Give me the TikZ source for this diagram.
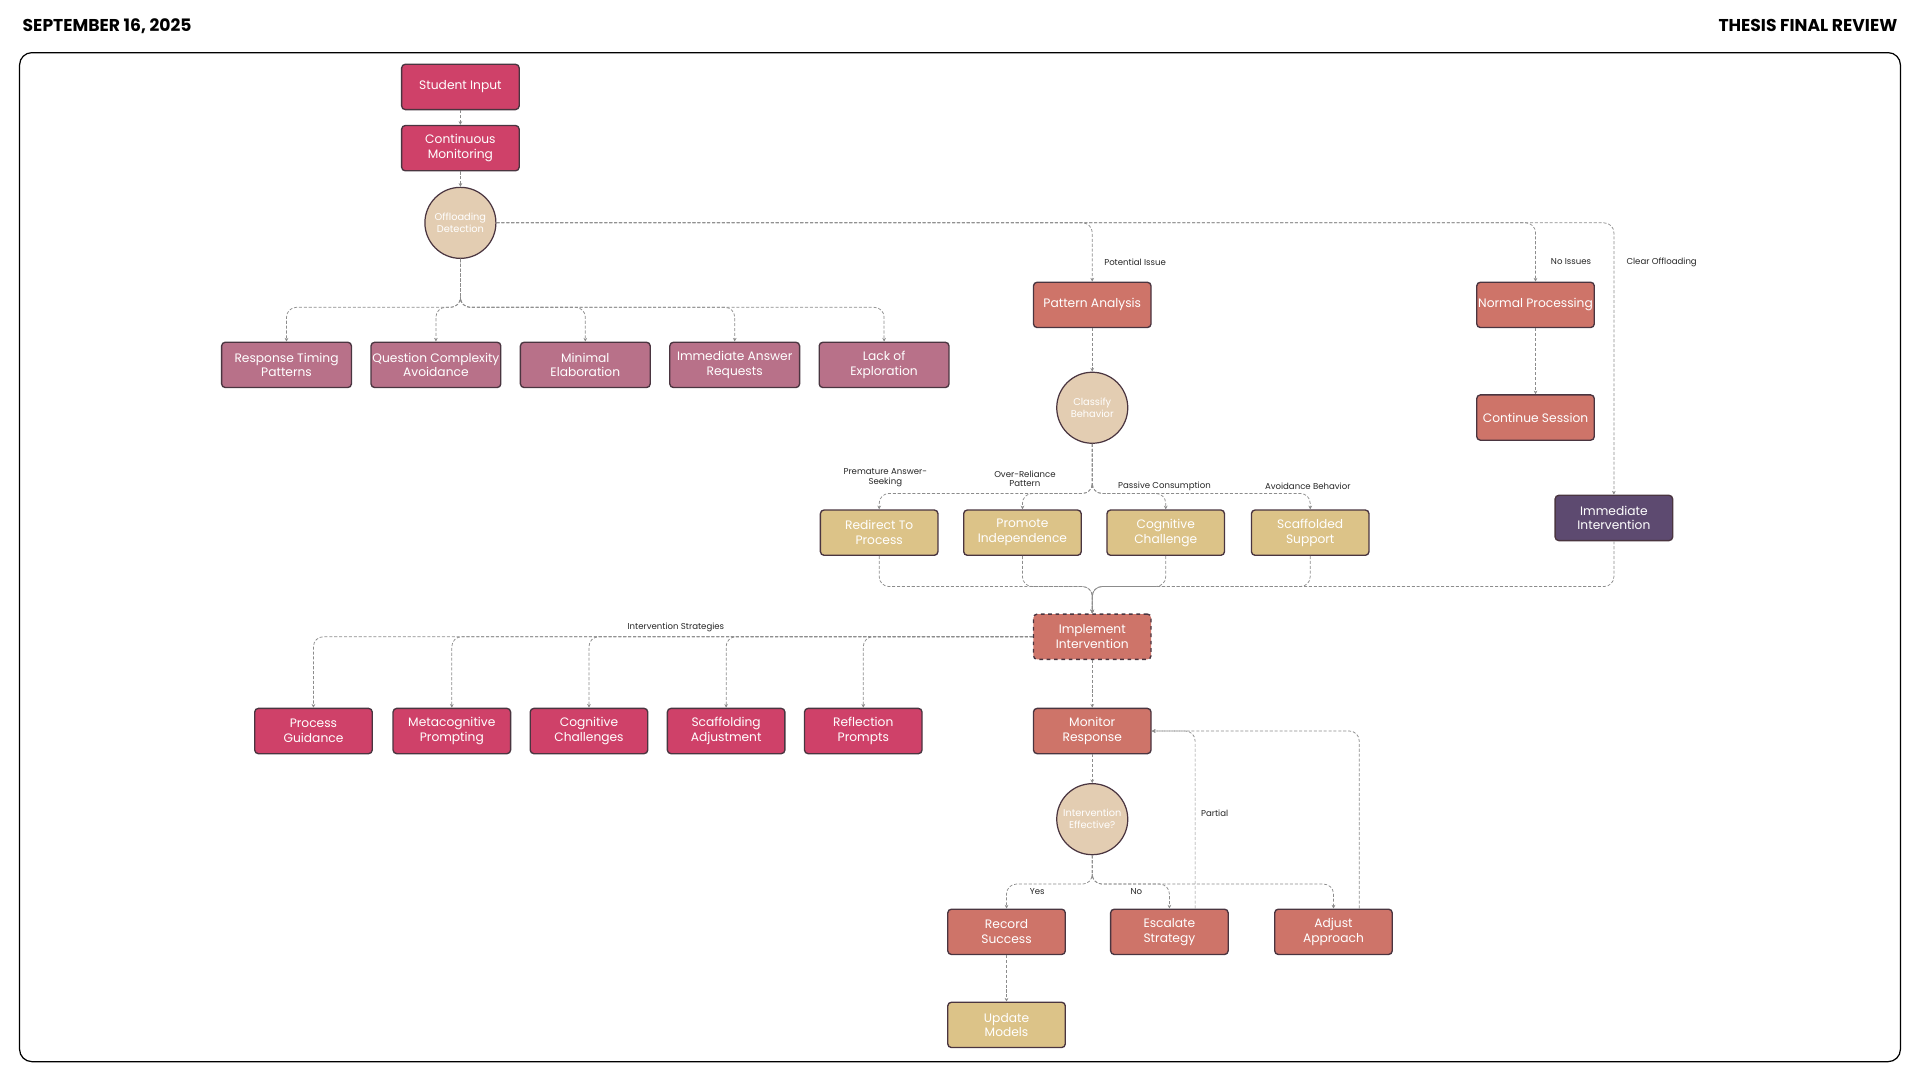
\documentclass[tikz,border=0pt]{standalone}
\usepackage{fontspec}
\setmainfont{Poppins}
\usetikzlibrary{arrows.meta}
\definecolor{crim}{HTML}{CF4169}
\definecolor{mauve}{HTML}{B87189}
\definecolor{salm}{HTML}{CE7469}
\definecolor{gold}{HTML}{DCC388}
\definecolor{purp}{HTML}{5D4A70}
\definecolor{bord}{HTML}{4A3540}
\definecolor{circ}{HTML}{E3CDB2}
\definecolor{ln}{HTML}{8C8C8C}
\begin{document}
\begin{tikzpicture}[x=1pt,y=-1pt,
 box/.style={draw=bord,line width=1.1pt,rounded corners=3pt,minimum width=96pt,minimum height=37pt,text=white,align=center,inner sep=1pt,font=\fontsize{10}{12}\selectfont},
 wbox/.style={box,minimum width=106pt},
 crc/.style={circle,draw=bord,line width=1pt,fill=circ,minimum size=58pt,text=white,align=center,inner sep=0pt,font=\fontsize{8}{10}\selectfont},
 e/.style={draw=ln,line width=0.6pt,dash pattern=on 2.5pt off 1.5pt,rounded corners=8pt,-{Stealth[length=3pt,width=3pt]}},
 lb/.style={font=\fontsize{7}{8}\selectfont,text=black!85,align=center,inner sep=1pt}]
\useasboundingbox (0,0) rectangle (1568,880);
\node[anchor=west,font=\fontsize{14}{16}\selectfont\bfseries] (hd1) at (15,21) {SEPTEMBER 16, 2025};
\node[anchor=east,font=\fontsize{14}{16}\selectfont\bfseries] (hd2) at (1553,21) {THESIS FINAL REVIEW};
\draw[line width=1pt,rounded corners=10pt] (16,43) rectangle (1552,867);

\node[box,fill=crim] (si) at (376,71) {Student Input};
\node[box,fill=crim] (cm) at (376,121) {Continuous\\Monitoring};
\node[crc] (od) at (376,182) {Offloading\\Detection};
\node[wbox,fill=mauve] (r1) at (234,298) {Response Timing\\Patterns};
\node[wbox,fill=mauve] (r2) at (356,298) {Question Complexity\\Avoidance};
\node[wbox,fill=mauve] (r3) at (478,298) {Minimal\\Elaboration};
\node[wbox,fill=mauve] (r4) at (600,298) {Immediate Answer\\Requests};
\node[wbox,fill=mauve] (r5) at (722,298) {Lack of\\Exploration};
\node[box,fill=salm] (pa) at (892,249) {Pattern Analysis};
\node[box,fill=salm] (np) at (1254,249) {Normal Processing};
\node[box,fill=salm] (cs) at (1254,341) {Continue Session};
\node[crc] (cb) at (892,333) {Classify\\Behavior};
\node[box,fill=gold] (g1) at (718,435) {Redirect To\\Process};
\node[box,fill=gold] (g2) at (835,435) {Promote\\Independence};
\node[box,fill=gold] (g3) at (952,435) {Cognitive\\Challenge};
\node[box,fill=gold] (g4) at (1070,435) {Scaffolded\\Support};
\node[box,fill=purp] (ii) at (1318,423) {Immediate\\Intervention};
\node[box,fill=salm,dashed] (im) at (892,520) {Implement\\Intervention};
\node[box,fill=crim] (c1) at (256,597) {Process\\Guidance};
\node[box,fill=crim] (c2) at (369,597) {Metacognitive\\Prompting};
\node[box,fill=crim] (c3) at (481,597) {Cognitive\\Challenges};
\node[box,fill=crim] (c4) at (593,597) {Scaffolding\\Adjustment};
\node[box,fill=crim] (c5) at (705,597) {Reflection\\Prompts};
\node[box,fill=salm] (mr) at (892,597) {Monitor\\Response};
\node[crc] (ie) at (892,669) {Intervention\\Effective?};
\node[box,fill=salm] (rs) at (822,761) {Record\\Success};
\node[box,fill=salm] (es) at (955,761) {Escalate\\Strategy};
\node[box,fill=salm] (aa) at (1089,761) {Adjust\\Approach};
\node[box,fill=gold] (um) at (822,837) {Update\\Models};

\coordinate (b1) at (376,251);
\coordinate (b2) at (892,403);
\coordinate (b3) at (892,479);
\coordinate (b4) at (892,722);

\draw[e] (si) -- (cm);
\draw[e] (cm) -- (od);
\foreach \n in {r1,r2,r3,r4,r5} \draw[e] (od.south) |- (b1) -| (\n.north);
\draw[e] (od.east) -| (pa.north);
\draw[e] (od.east) -| (np.north);
\draw[e] (od.east) -| (ii.north);
\node[lb] (l1) at (927,214) {Potential Issue};
\node[lb] (l2) at (1283,214) {No Issues};
\node[lb] (l3) at (1357,214) {Clear Offloading};
\draw[e] (pa) -- (cb);
\draw[e] (np) -- (cs);
\foreach \n in {g1,g2,g3,g4} \draw[e] (cb.south) |- (b2) -| (\n.north);
\node[lb] (l4) at (723,390) {Premature Answer-\\Seeking};
\node[lb] (l5) at (837,391) {Over-Reliance\\Pattern};
\node[lb] (l6) at (951,397) {Passive Consumption};
\node[lb] (l7) at (1068,397) {Avoidance Behavior};
\foreach \n in {g1,g2,g3,g4,ii} \draw[e] (\n.south) |- (b3) -- (im.north);
\foreach \n in {c1,c2,c3,c4,c5} \draw[e] (im.west) -| (\n.north);
\node[lb] (l8) at (552,512) {Intervention Strategies};
\draw[e] (im) -- (mr);
\draw[e] (mr) -- (ie);
\foreach \n in {rs,es,aa} \draw[e] (ie.south) |- (b4) -| (\n.north);
\node[lb] (l9) at (847,728) {Yes};
\node[lb] (l10) at (928,728) {No};
\draw[e] ([xshift=21pt]es.north) |- (mr.east);
\draw[e] ([xshift=21pt]aa.north) |- (mr.east);
\node[lb] (l11) at (992,664) {Partial};
\draw[e] (rs) -- (um);
\end{tikzpicture}
\end{document}
